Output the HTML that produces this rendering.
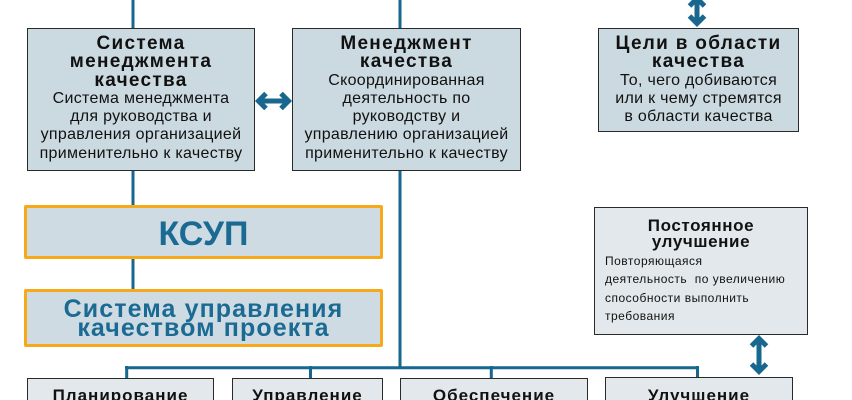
<!DOCTYPE html>
<html><head><meta charset="utf-8">
<style>
html,body{margin:0;padding:0;background:#fff;width:852px;height:400px;overflow:hidden;}
body{position:relative;font-family:"Liberation Sans","Noto Sans CJK SC",sans-serif;color:#111;}
.box{position:absolute;box-sizing:border-box;border:1px solid #2a2a2a;background:#cbd9e0;text-align:center;overflow:hidden;}
.lt{background:#e2e8ec;}
.t{font-weight:bold;font-size:19px;line-height:18.25px;letter-spacing:1.3px;}
.b{font-size:16px;line-height:18.25px;letter-spacing:0.3px;}
.ob{position:absolute;box-sizing:border-box;border:3px solid #f6a91b;border-radius:2px;background:#cfdbe2;text-align:center;color:#1a6a94;}
svg{position:absolute;left:0;top:0;}
</style></head><body>

<svg width="852" height="400" viewBox="0 0 852 400">
 <g stroke="#17678f" stroke-width="3" fill="none">
  <line x1="133" y1="0" x2="133" y2="28"/>
  <line x1="133" y1="170" x2="133" y2="205"/>
  <line x1="133" y1="259" x2="133" y2="289"/>
  <line x1="400" y1="0" x2="400" y2="28"/>
  <line x1="400" y1="170" x2="400" y2="369"/>
  <line x1="125" y1="367.7" x2="699" y2="367.7"/>
  <line x1="126.7" y1="366" x2="126.7" y2="378"/>
  <line x1="310.5" y1="366" x2="310.5" y2="378"/>
  <line x1="491.3" y1="366" x2="491.3" y2="378"/>
  <line x1="697.5" y1="366" x2="697.5" y2="378"/>
 </g>
 <g stroke="#17678f" stroke-width="5" fill="none" stroke-linejoin="miter" stroke-linecap="butt">
  <line x1="259" y1="101" x2="288" y2="101"/>
  <polyline points="266,93.5 258.5,101 266,108.5"/>
  <polyline points="281,93.5 288.5,101 281,108.5"/>
  <line x1="697" y1="0" x2="697" y2="23"/>
  <polyline points="689.5,6 697,-1.5 704.5,6"/>
  <polyline points="689.5,16 697,23.5 704.5,16"/>
  <line x1="759" y1="339" x2="759" y2="371"/>
  <polyline points="751.5,346 759,338.5 766.5,346"/>
  <polyline points="751.5,364 759,371.5 766.5,364"/>
 </g>
</svg>

<div class="box" style="left:27px;top:28px;width:228px;height:143px;">
 <div class="t" style="padding-top:6px;">Система<br>менеджмента<br>качества</div>
 <div class="b">Система менеджмента<br>для руководства и<br>управления организацией<br>применительно к качеству</div>
</div>

<div class="box" style="left:292px;top:28px;width:229px;height:143px;">
 <div class="t" style="padding-top:6px;">Менеджмент<br>качества</div>
 <div class="b">Скоординированная<br>деятельность по<br>руководству и<br>управлению организацией<br>применительно к качеству</div>
</div>

<div class="box" style="left:598px;top:28px;width:201px;height:104px;">
 <div class="t" style="padding-top:6px;">Цели в области<br>качества</div>
 <div class="b">То, чего добиваются<br>или к чему стремятся<br>в области качества</div>
</div>

<div class="ob" style="left:24px;top:205px;width:359px;height:54px;">
 <div style="font-weight:bold;font-size:34px;line-height:34px;padding-top:9px;">КСУП</div>
</div>

<div class="ob" style="left:24px;top:289px;width:359px;height:58px;">
 <div style="font-weight:bold;font-size:25px;line-height:19px;letter-spacing:1.1px;padding-top:8px;">Система управления<br>качеством проекта</div>
</div>

<div class="box lt" style="left:594px;top:207px;width:214px;height:128px;">
 <div style="font-weight:bold;font-size:17px;line-height:16px;letter-spacing:0.6px;padding-top:10px;">Постоянное<br>улучшение</div>
 <div style="text-align:left;font-size:12px;line-height:18.3px;letter-spacing:0.5px;padding-left:10px;margin-top:2px;">Повторяющаяся<br>деятельность&nbsp; по увеличению<br>способности выполнить<br>требования</div>
</div>

<div class="box lt" style="left:27px;top:378px;width:187px;height:30px;"><div class="t" style="font-size:17px;letter-spacing:1px;padding-top:8px;">Планирование</div></div>
<div class="box lt" style="left:232px;top:378px;width:151px;height:30px;"><div class="t" style="font-size:17px;letter-spacing:1px;padding-top:8px;">Управление</div></div>
<div class="box lt" style="left:400px;top:378px;width:188px;height:30px;"><div class="t" style="font-size:17px;letter-spacing:1px;padding-top:8px;">Обеспечение</div></div>
<div class="box lt" style="left:605px;top:377px;width:188px;height:30px;"><div class="t" style="font-size:17px;letter-spacing:1px;padding-top:9px;">Улучшение</div></div>

</body></html>
